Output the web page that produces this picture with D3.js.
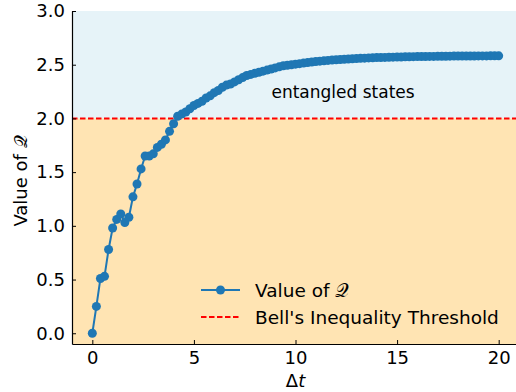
<!DOCTYPE html>
<html>
<head>
<meta charset="utf-8">
<script src="https://cdn.jsdelivr.net/npm/d3@7"></script>
<style>
  body { margin: 0; background: #fff; }
  svg text { font-family: "DejaVu Sans", sans-serif; fill: #000; }
</style>
</head>
<body>
<script>
// delta t values, step 0.2 from 0 to 20
var dt = d3.range(0, 101).map(function(i) { return +(i * 0.2).toFixed(1); });

// value of Q
var qValues = [
  0.00, 0.25, 0.51, 0.53, 0.78, 0.98, 1.06, 1.11, 1.03, 1.08,
  1.27, 1.39, 1.53, 1.65, 1.65, 1.67, 1.73, 1.76, 1.80, 1.88,
  1.95, 2.02, 2.04, 2.06, 2.09, 2.12, 2.14, 2.16, 2.19, 2.21,
  2.24, 2.26, 2.29, 2.31, 2.32, 2.34, 2.36, 2.38, 2.40, 2.41,
  2.42, 2.43, 2.44, 2.45, 2.46, 2.47, 2.48, 2.49, 2.495, 2.50,
  2.505, 2.51, 2.515, 2.52, 2.525, 2.53, 2.533, 2.536, 2.54, 2.543,
  2.546, 2.549, 2.551, 2.553, 2.555, 2.557, 2.559, 2.561, 2.563, 2.565,
  2.566, 2.567, 2.568, 2.569, 2.570, 2.571, 2.572, 2.573, 2.574, 2.575,
  2.5755, 2.576, 2.5765, 2.577, 2.5775, 2.578, 2.5785, 2.579, 2.5795, 2.580,
  2.5803, 2.5806, 2.5809, 2.5812, 2.5815, 2.5818, 2.582, 2.5822, 2.5824, 2.5826,
  2.5828
];

var threshold = 2.0;
var xTicks = [0, 5, 10, 15, 20];
var yTicks = [0.0, 0.5, 1.0, 1.5, 2.0, 2.5, 3.0];
var legendLabels = ["Value of \u{1D4AC}", "Bell's Inequality Threshold"];

var W = 516, H = 392;
var margin = {top: 11, right: -3, bottom: 48, left: 72};
var width = W - margin.left - margin.right,
    height = H - margin.top - margin.bottom;

var svg = d3.select("body").append("svg")
    .attr("width", W)
    .attr("height", H);

var g = svg.append("g")
    .attr("transform", "translate(" + margin.left + "," + margin.top + ")");

var x = d3.scaleLinear().domain([-1, 21]).range([0, width]);
var y = d3.scaleLinear().domain([-0.1, 3.0]).range([height, 0]);

// shaded regions
g.append("rect")
    .attr("x", 0).attr("width", width)
    .attr("y", y(3.0)).attr("height", y(threshold) - y(3.0))
    .attr("fill", "#e6f3f8");
g.append("rect")
    .attr("x", 0).attr("width", width)
    .attr("y", y(threshold)).attr("height", y(-0.1) - y(threshold))
    .attr("fill", "#ffe4b3");

// threshold line
g.append("line")
    .attr("x1", 0).attr("x2", width)
    .attr("y1", y(threshold)).attr("y2", y(threshold))
    .attr("stroke", "#ff0000")
    .attr("stroke-width", 2)
    .attr("stroke-dasharray", "5.5,2.5");

// data line + markers
var pts = dt.map(function(d, i) { return [d, qValues[i]]; });
var line = d3.line()
    .x(function(d) { return x(d[0]); })
    .y(function(d) { return y(d[1]); });

g.append("path")
    .datum(pts)
    .attr("d", line)
    .attr("fill", "none")
    .attr("stroke", "#1f77b4")
    .attr("stroke-width", 2);

g.selectAll("circle.pt")
    .data(pts)
  .enter().append("circle")
    .attr("class", "pt")
    .attr("cx", function(d) { return x(d[0]); })
    .attr("cy", function(d) { return y(d[1]); })
    .attr("r", 4.5)
    .attr("fill", "#1f77b4");

// axes, ticks pointing inwards
var xAxis = g.append("g")
    .attr("transform", "translate(0," + height + ")")
    .call(d3.axisBottom(x).tickValues(xTicks).tickFormat(d3.format("d"))
      .tickSizeInner(-4).tickSizeOuter(0).tickPadding(7));
var yAxis = g.append("g")
    .call(d3.axisLeft(y).tickValues(yTicks).tickFormat(d3.format(".1f"))
      .tickSizeInner(-4).tickSizeOuter(0).tickPadding(7));

[xAxis, yAxis].forEach(function(a) {
  a.select(".domain").attr("stroke", "#000").attr("stroke-width", 1.2);
  a.selectAll(".tick line").attr("stroke", "#000");
  a.selectAll("text").style("font-size", "18px").attr("fill", "#000");
});

// axis labels
svg.append("text")
    .attr("x", margin.left + x(10))
    .attr("y", 387)
    .attr("text-anchor", "middle")
    .style("font-size", "18px")
    .html("\u0394<tspan font-style='italic'>t</tspan>");

svg.append("text")
    .attr("transform", "translate(27," + 181 + ") rotate(-90)")
    .attr("text-anchor", "middle")
    .style("font-size", "18px")
    .text(legendLabels[0]);

// annotation
g.append("text")
    .attr("x", x(12.34))
    .attr("y", y(2.19))
    .attr("text-anchor", "middle")
    .style("font-size", "17px")
    .text("entangled states");

// legend
var leg = svg.append("g").attr("transform", "translate(201,290)");
leg.append("line").attr("x1", 0).attr("x2", 39).attr("y1", 0).attr("y2", 0)
    .attr("stroke", "#1f77b4").attr("stroke-width", 2);
leg.append("circle").attr("cx", 19.5).attr("cy", 0).attr("r", 4.5).attr("fill", "#1f77b4");
leg.append("line").attr("x1", 0).attr("x2", 39).attr("y1", 27).attr("y2", 27)
    .attr("stroke", "#ff0000").attr("stroke-width", 2).attr("stroke-dasharray", "5.5,2.5");
leg.selectAll("text.lab")
    .data(legendLabels)
  .enter().append("text")
    .attr("class", "lab")
    .attr("x", 54)
    .attr("y", function(d, i) { return i * 27 + 6.5; })
    .style("font-size", "18.5px")
    .text(function(d) { return d; });
</script>
</body>
</html>
